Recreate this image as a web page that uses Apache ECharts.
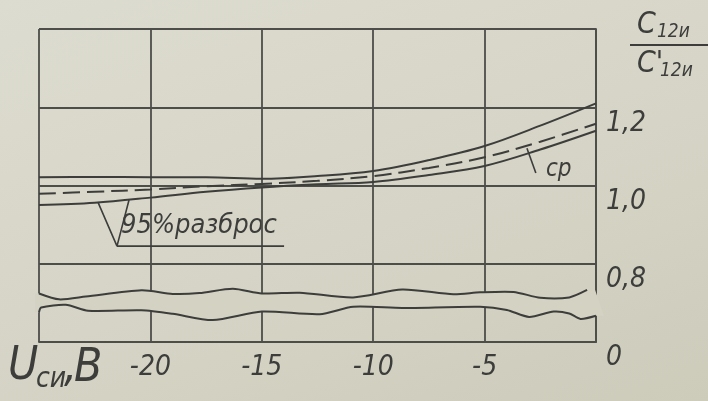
<!DOCTYPE html>
<html><head><meta charset="utf-8">
<script src="https://cdn.jsdelivr.net/npm/echarts@6/dist/echarts.min.js"></script>
<style>
html,body{margin:0;padding:0;width:708px;height:401px;overflow:hidden;
background:linear-gradient(160deg,#dddcd0 0%,#d5d4c6 55%,#cdccbb 100%);}
#c{width:708px;height:401px;}
</style>
</head><body><div id="c"></div>
<script>
// ---- data ----
const voltage   = [-25, -22.5, -20, -17.5, -15, -12.5, -10, -7.5, -5, -2.5, 0];
const upper95   = [1.021, 1.022, 1.021, 1.021, 1.017, 1.024, 1.037, 1.065, 1.101, 1.153, 1.210];
const meanRatio = [0.979, 0.984, 0.990, 0.998, 1.004, 1.012, 1.024, 1.045, 1.072, 1.112, 1.158];
const lower95   = [0.950, 0.956, 0.969, 0.984, 0.995, 1.003, 1.009, 1.027, 1.050, 1.092, 1.140];

const xTickLabels = {'-25': '', '-20': '-20', '-15': '-15', '-10': '-10', '-5': '-5', '0': ''};
const yTickLabels = {'0.6': '0', '0.8': '0,8', '1.0': '1,0', '1.2': '1,2', '1.4': ''};

// axis-break wavy lines (drawn between "0" and "0,8")
const breakUpperX = [-25, -24.1, -22.9, -20.4, -19.0, -17.8, -16.3, -15.0, -13.3, -10.9, -8.7, -6.4, -5.2, -3.7, -2.5, -1.2, -0.4];
const breakUpperY = [0.724, 0.709, 0.716, 0.732, 0.723, 0.725, 0.736, 0.724, 0.726, 0.714, 0.734, 0.722, 0.727, 0.728, 0.713, 0.714, 0.733];
const breakLowerX = [-25, -24.9, -23.8, -22.8, -20.4, -19.0, -17.2, -15.0, -12.4, -10.9, -8.7, -5.2, -4.0, -3.0, -1.9, -1.2, -0.7, 0];
const breakLowerY = [0.676, 0.688, 0.695, 0.680, 0.681, 0.672, 0.656, 0.678, 0.671, 0.690, 0.687, 0.690, 0.682, 0.664, 0.678, 0.673, 0.659, 0.667];

// annotation pointers
const spreadPointerX = [-22.35, -21.5, -20.96];
const spreadPointerY = [0.957, 0.845, 0.963];
const spreadUnderlineX = [-21.5, -14.0];
const spreadUnderlineY = [0.845, 0.845];
const meanPointerX = [-3.1, -2.7];
const meanPointerY = [1.095, 1.032];

// ---- chart ----
const INK = '#3d3d3b';
const GRID = '#4d4d4a';
const PAPER = '#d3d2c3';
const F = "'Liberation Sans Narrow','DejaVu Sans Condensed','DejaVu Sans',sans-serif";
const zip = (xs, ys) => xs.map((x, i) => [x, ys[i]]);

const chart = echarts.init(document.getElementById('c'), null, {renderer: 'canvas'});
const txt = (x, y, s, size, extra) => Object.assign({
  type: 'text', x: x, y: y, silent: true,
  style: {text: s, fill: INK, font: 'italic ' + size + 'px ' + F, textVerticalAlign: 'top'}
}, extra || {});

chart.setOption({
  animation: false,
  backgroundColor: 'transparent',
  grid: {left: 39, right: 112, top: 29, bottom: 59},
  xAxis: {
    type: 'value', min: -25, max: 0, interval: 5,
    axisLine: {show: true, onZero: false, lineStyle: {color: GRID, width: 1.8}},
    axisTick: {show: false},
    splitLine: {show: true, lineStyle: {color: GRID, width: 1.8}},
    axisLabel: {
      margin: 12, color: INK, fontFamily: F, fontStyle: 'italic', fontSize: 28,
      formatter: v => xTickLabels[String(Math.round(v))] || ''
    }
  },
  yAxis: {
    type: 'value', position: 'right', min: 0.6, max: 1.4, interval: 0.2,
    axisLine: {show: true, lineStyle: {color: GRID, width: 1.8}},
    axisTick: {show: false},
    splitLine: {show: true, lineStyle: {color: GRID, width: 1.8}},
    axisLabel: {
      margin: 10, color: INK, fontFamily: F, fontStyle: 'italic', fontSize: 28,
      verticalAlign: 'top', padding: [2, 0, 0, 0],
      formatter: v => yTickLabels[v.toFixed(1)] || ''
    }
  },
  series: [
    {type: 'line', name: 'upper', data: zip(voltage, upper95), smooth: 0.35, symbol: 'none',
     lineStyle: {color: INK, width: 2}, z: 4},
    {type: 'line', name: 'mean', data: zip(voltage, meanRatio), smooth: 0.35, symbol: 'none',
     lineStyle: {color: INK, width: 2, type: [17, 7]}, z: 4},
    {type: 'line', name: 'lower', data: zip(voltage, lower95), smooth: 0.35, symbol: 'none',
     lineStyle: {color: INK, width: 2}, z: 4},
    {type: 'line', data: zip(spreadPointerX, spreadPointerY), symbol: 'none',
     lineStyle: {color: INK, width: 1.6}, z: 4},
    {type: 'line', data: zip(spreadUnderlineX, spreadUnderlineY), symbol: 'none',
     lineStyle: {color: INK, width: 1.6}, z: 4},
    {type: 'line', data: zip(meanPointerX, meanPointerY), symbol: 'none',
     lineStyle: {color: INK, width: 1.6}, z: 4},
    {
      type: 'custom', coordinateSystem: 'cartesian2d', silent: true, z: 3,
      data: [[-12.5, 0.7]],
      renderItem: function (params, api) {
        const up = zip(breakUpperX, breakUpperY).map(p => api.coord(p));
        const lo = zip(breakLowerX, breakLowerY).map(p => api.coord(p));
        const u0 = up[0], u1 = up[up.length - 1], l0 = lo[0], l1 = lo[lo.length - 1];
        const poly = [[u0[0] - 4, u0[1]]].concat(up, [[u1[0] + 8, u1[1]], [l1[0] + 8, l1[1]]],
          lo.slice().reverse(), [[l0[0] - 4, l0[1]]]);
        return {
          type: 'group', children: [
            {type: 'polygon', shape: {points: poly}, style: {fill: PAPER, stroke: null}},
            {type: 'polyline', shape: {points: up, smooth: 0.25}, style: {stroke: INK, lineWidth: 2, fill: null}},
            {type: 'polyline', shape: {points: lo, smooth: 0.25}, style: {stroke: INK, lineWidth: 2, fill: null}}
          ]
        };
      }
    }
  ],
  graphic: [
    txt(637, 10, 'C', 30),
    txt(657, 23, '12и', 19),
    {type: 'line', silent: true, shape: {x1: 630, y1: 45, x2: 708, y2: 45}, style: {stroke: INK, lineWidth: 2}},
    txt(637, 49, "C'", 30),
    txt(660, 62, '12и', 19),
    txt(8, 344, 'U', 46),
    txt(36, 366, 'си', 28),
    txt(64, 346, ',', 46),
    txt(74, 346, 'В', 46),
    txt(121, 212, '95%разброс', 27),
    txt(546, 158, 'ср', 24)
  ]
});
</script>
</body></html>
